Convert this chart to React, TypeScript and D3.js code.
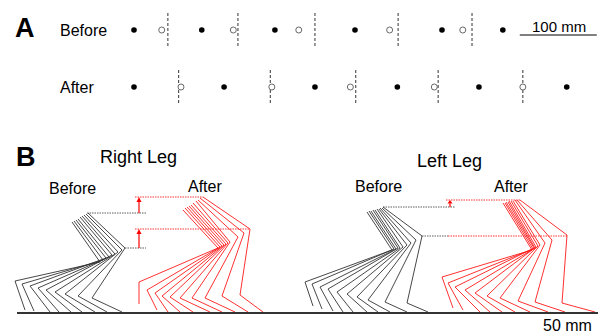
import React from "react";
import * as d3 from "d3";

// Panel A: foot positions along the walkway (mm from first contact)
const BEFORE_FILLED = [0, 88, 183, 287, 400, 479];
const BEFORE_OPEN = [36, 129, 214, 332, 427];
const BEFORE_DASHED = [44, 135, 235, 343, 439];
const AFTER_FILLED = [0, 117, 235, 342, 448, 562];
const AFTER_OPEN = [61, 179, 281, 390, 505];
const AFTER_DASHED = [58, 177, 288, 395, 505];
const SCALE_BAR_A = [501, 601];

// Panel B: stick figures, [hipX, hipH, kneeX, kneeH, ankleX, ankleH, toeX, toeH]
const RIGHT_BEFORE = [
  [72, 90, 100, 50, 15, 31, 25, 2],
  [74, 91, 103, 52, 22, 28, 34, 1],
  [76, 92, 106, 54, 30, 26, 50, 0],
  [78, 93, 109, 55, 38, 24, 59, 0],
  [80, 95, 112, 57, 46, 22, 71, 0],
  [82, 96, 115, 58, 55, 20, 82, 0],
  [84, 97, 118, 60, 65, 18, 95, 0],
  [86, 98, 122, 62, 78, 16, 107, 0],
  [88, 99, 125, 64, 92, 14, 122, 0],
];
const RIGHT_AFTER = [
  [183, 102, 218, 64, 139, 30, 139, 8],
  [185, 104, 220, 65, 147, 22, 157, 2],
  [187, 105, 222, 66, 155, 19, 168, 0],
  [189, 106, 224, 67, 162, 16, 180, 0],
  [191, 107, 226, 68, 170, 15, 193, 0],
  [193, 109, 228, 69, 180, 14, 210, 0],
  [196, 111, 230, 70, 192, 14, 222, 0],
  [198, 112, 238, 75, 205, 14, 235, 0],
  [200, 114, 244, 79, 222, 16, 248, 0],
  [203, 115, 250, 83, 240, 17, 263, 0],
];
const LEFT_BEFORE = [
  [367, 100, 392, 62, 305, 30, 313, 6],
  [369, 101, 394, 63, 312, 28, 322, 3],
  [371, 101, 396, 63, 320, 25, 333, 1],
  [373, 102, 398, 64, 328, 23, 343, 0],
  [375, 102, 400, 64, 337, 20, 353, 0],
  [377, 103, 403, 65, 347, 18, 367, 0],
  [379, 103, 407, 67, 357, 15, 378, 0],
  [380, 104, 411, 69, 368, 12, 390, 0],
  [382, 104, 416, 72, 385, 10, 407, 0],
  [383, 105, 422, 76, 407, 9, 428, 0],
];
const LEFT_AFTER = [
  [503, 109, 532, 62, 442, 35, 453, 4],
  [505, 109, 533, 63, 448, 29, 463, 2],
  [506, 110, 534, 64, 455, 25, 480, 0],
  [508, 110, 535, 64, 465, 22, 490, 0],
  [509, 111, 536, 65, 475, 19, 502, 0],
  [511, 111, 538, 66, 487, 16, 515, 0],
  [513, 111, 540, 67, 500, 14, 530, 0],
  [515, 112, 545, 69, 518, 11, 548, 0],
  [517, 112, 552, 72, 535, 10, 565, 0],
  [520, 112, 567, 77, 562, 9, 595, 0],
];

// reference lines: [x1, x2, height, colour]
const REF_LINES: [number, number, number, string][] = [
  [87, 146, 99, "#333"],
  [125, 146, 64, "#333"],
  [135, 203, 115, "red"],
  [135, 250, 83, "red"],
  [383, 455, 105, "#333"],
  [446, 520, 112, "red"],
  [422, 448, 76, "#333"],
  [448, 567, 76, "red"],
];
// arrows: [x, fromH, toH]
const ARROWS = [
  [139, 99, 115],
  [139, 64, 83],
  [450, 105, 112],
];

const FONT = "'Liberation Sans', Arial, sans-serif";

export default function App() {
  const width = 600;
  const height = 334;

  const xA = d3.scaleLinear().domain([0, 100]).range([134, 211]);
  const rowBefore = 30;
  const rowAfter = 87;

  const xB = d3.scaleLinear().domain([0, 600]).range([0, 600]);
  const yB = d3.scaleLinear().domain([0, 120]).range([312, 192]);

  const line = d3
    .line<number[]>()
    .x((d) => xB(d[0]))
    .y((d) => yB(d[1]));

  const toPts = (f: number[]) => [
    [f[0], f[1]],
    [f[2], f[3]],
    [f[4], f[5]],
    [f[6], f[7]],
  ];

  const sticks = (figs: number[][], color: string, key: string) =>
    figs.map((f, i) => (
      <path
        key={key + i}
        d={line(toPts(f)) || ""}
        fill="none"
        stroke={color}
        strokeWidth={0.9}
      />
    ));

  const row = (
    filled: number[],
    open: number[],
    dashed: number[],
    y: number,
    key: string
  ) => (
    <g key={key}>
      {dashed.map((v, i) => (
        <line
          key={"d" + i}
          x1={xA(v)}
          x2={xA(v)}
          y1={y - 17}
          y2={y + 17}
          stroke="#333"
          strokeWidth={1}
          strokeDasharray="3,2"
        />
      ))}
      {filled.map((v, i) => (
        <circle key={"f" + i} cx={xA(v)} cy={y} r={2.8} fill="#000" />
      ))}
      {open.map((v, i) => (
        <circle
          key={"o" + i}
          cx={xA(v)}
          cy={y}
          r={3}
          fill="#fff"
          stroke="#444"
          strokeWidth={0.8}
        />
      ))}
    </g>
  );

  return (
    <svg
      width={width}
      height={height}
      style={{ position: "absolute", left: 0, top: 0, background: "#fff" }}
      fontFamily={FONT}
    >
      {/* Panel A */}
      <text x={15} y={37} fontSize={27} fontWeight="bold">
        A
      </text>
      <text x={60} y={36} fontSize={16}>
        Before
      </text>
      <text x={60} y={93} fontSize={16}>
        After
      </text>
      {row(BEFORE_FILLED, BEFORE_OPEN, BEFORE_DASHED, rowBefore, "before")}
      {row(AFTER_FILLED, AFTER_OPEN, AFTER_DASHED, rowAfter, "after")}
      <line
        x1={xA(SCALE_BAR_A[0])}
        x2={xA(SCALE_BAR_A[1])}
        y1={35}
        y2={35}
        stroke="#000"
        strokeWidth={1}
      />
      <text x={532} y={32} fontSize={15}>
        100 mm
      </text>

      {/* Panel B */}
      <text x={16} y={166} fontSize={27} fontWeight="bold">
        B
      </text>
      <text x={100} y={163} fontSize={18}>
        Right Leg
      </text>
      <text x={417} y={167} fontSize={18}>
        Left Leg
      </text>
      <text x={49} y={194} fontSize={16}>
        Before
      </text>
      <text x={188} y={192} fontSize={16}>
        After
      </text>
      <text x={355} y={192} fontSize={16}>
        Before
      </text>
      <text x={494} y={192} fontSize={16}>
        After
      </text>

      {REF_LINES.map(([x1, x2, h, c], i) => (
        <line
          key={"ref" + i}
          x1={xB(x1)}
          x2={xB(x2)}
          y1={yB(h)}
          y2={yB(h)}
          stroke={c}
          strokeWidth={0.8}
          strokeDasharray="1.5,1"
        />
      ))}
      {ARROWS.map(([x, h0, h1], i) => {
        const px = xB(x);
        const tip = yB(h1);
        const head = Math.min(5, (yB(h0) - tip) * 0.5);
        return (
          <g key={"arr" + i}>
            <line
              x1={px}
              x2={px}
              y1={yB(h0)}
              y2={tip + head}
              stroke="red"
              strokeWidth={1.2}
            />
            <path
              d={`M${px},${tip} L${px - 2.5},${tip + head} L${px + 2.5},${
                tip + head
              } Z`}
              fill="red"
            />
          </g>
        );
      })}

      {sticks(RIGHT_BEFORE, "#333", "rb")}
      {sticks(RIGHT_AFTER, "#ff1a1a", "ra")}
      {sticks(LEFT_BEFORE, "#333", "lb")}
      {sticks(LEFT_AFTER, "#ff1a1a", "la")}

      <line
        x1={17}
        x2={598}
        y1={yB(0) + 1}
        y2={yB(0) + 1}
        stroke="#333"
        strokeWidth={2}
      />
      <text x={543} y={331} fontSize={16}>
        50 mm
      </text>
    </svg>
  );
}
